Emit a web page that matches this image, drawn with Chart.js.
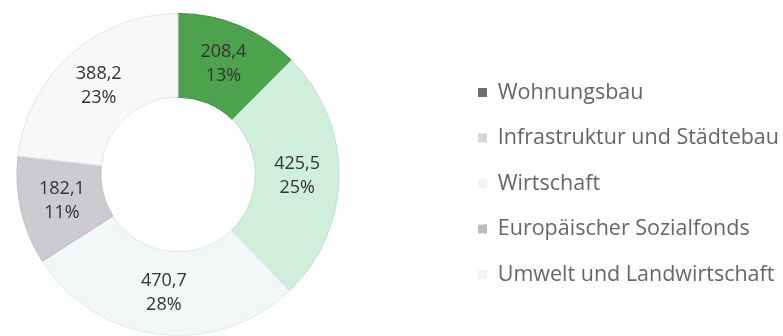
<!DOCTYPE html>
<html>
<head>
<meta charset="utf-8">
<script src="https://cdn.jsdelivr.net/npm/chart.js@4"></script>
<style>
  html, body { margin: 0; padding: 0; background: #ffffff; overflow: hidden; }
  #wrap { position: absolute; left: -98px; top: 0; width: 881px; height: 336px; }
</style>
</head>
<body>
<div id="wrap"><canvas id="chart"></canvas></div>
<script>
//categories, clockwise from the top
const labels = ["Wohnungsbau", "Infrastruktur und Städtebau", "Wirtschaft", "Europäischer Sozialfonds", "Umwelt und Landwirtschaft"];
//amounts shown in the slices
const values = [208.4, 425.5, 470.7, 182.1, 388.2];
//percent labels as printed
const percents = [13, 25, 28, 11, 23];

//slice colours
const sliceColors = ["#4da24e", "#cfeedb", "#f2f7f7", "#cdcbd0", "#f8f8f8"];
const sliceBorders = ["#3d8a40", "#bfe0cb", "#e1e6e6", "#bcbabf", "#e6e6e6"];
//legend markers are greys in the original
const legendColors = ["#6e6e6e", "#d6d6d6", "#f3f3f3", "#bcbcbc", "#f3f3f3"];

//draws "value / percent" in the middle of each slice
const sliceLabels = {
  id: "sliceLabels",
  afterDatasetsDraw(chart) {
    const ctx = chart.ctx;
    const meta = chart.getDatasetMeta(0);
    ctx.save();
    ctx.font = "18px 'Open Sans'";
    ctx.fillStyle = "#333333";
    ctx.textAlign = "center";
    ctx.textBaseline = "middle";
    meta.data.forEach((arc, i) => {
      const p = arc.tooltipPosition();
      const v = chart.data.datasets[0].data[i].toFixed(1).replace(".", ",");
      ctx.fillText(v, p.x, p.y - 12);
      ctx.fillText(percents[i] + "%", p.x, p.y + 12);
    });
    ctx.restore();
  },
};

//legend box is kept narrow for the layout, then widened so long names are not clipped
const wideLegend = {
  id: "wideLegend",
  afterLayout(chart) {
    if (chart.legend) {
      chart.legend.right = chart.width;
      chart.legend.width = chart.legend.right - chart.legend.left;
    }
  },
};

new Chart(document.getElementById("chart"), {
  type: "doughnut",
  plugins: [sliceLabels, wideLegend],
  data: {
    labels: labels,
    datasets: [
      {
        data: values,
        backgroundColor: sliceColors,
        borderColor: sliceBorders,
        borderWidth: 1,
      },
    ],
  },
  options: {
    responsive: true,
    maintainAspectRatio: false,
    animation: false,
    cutout: "48%",
    layout: { padding: { left: 0, top: 13, bottom: 0, right: 129 } },
    plugins: {
      tooltip: { enabled: false },
      legend: {
        position: "right",
        maxWidth: 200,
        title: { display: true, text: "", padding: { top: 2, bottom: 2 }, font: { size: 10, lineHeight: 1.4 } },
        labels: {
          boxWidth: 9,
          boxHeight: 9,
          padding: 24,
          color: "#333333",
          font: { family: "'Open Sans'", size: 21.5 },
          generateLabels: (chart) =>
            chart.data.labels.map((text, i) => ({
              text: text,
              fillStyle: legendColors[i],
              strokeStyle: legendColors[i],
              lineWidth: 0,
              hidden: false,
              index: i,
            })),
        },
      },
    },
  },
});
</script>
</body>
</html>
